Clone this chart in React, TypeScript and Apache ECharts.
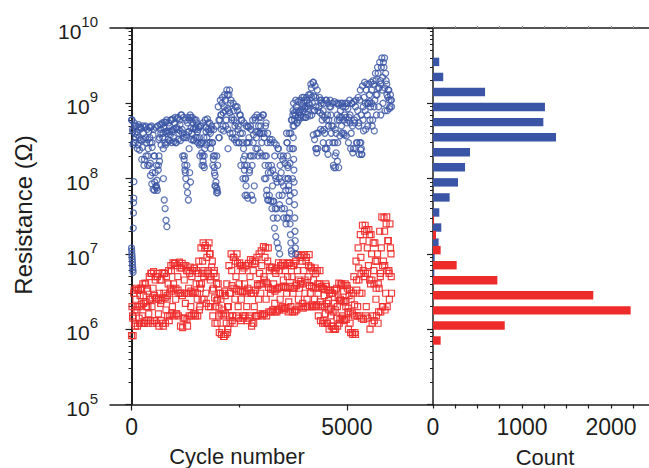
import React, { useEffect, useRef } from 'react';
import * as echarts from 'echarts';

// ---------- data ----------
const cycleStep = 25; // cycles between consecutive readings of the main traces
// HRS readings, MΩ (one per 25 cycles)
const hrsMOhm = [
  600, 450, 300, 500, 350, 420, 280, 480, 330,
  460, 260, 400, 180, 500, 300, 150, 420, 350,
  480, 300, 380, 200, 120, 80, 70, 150, 350, 450,
  520, 350, 480, 300, 560, 400, 330, 500, 380,
  600, 420, 350, 550, 300, 480, 650, 400, 520,
  700, 450, 350, 200, 120, 380, 550, 420, 600,
  650, 400, 550, 330, 480, 600, 350, 450, 280, 500,
  300, 200, 150, 250, 480, 350, 550, 420, 300,
  450, 300, 200, 120, 80, 65, 150, 350, 600,
  700, 1000, 500, 900, 1100, 600, 1300, 800, 1500,
  1000, 600, 400, 800, 500, 350, 900, 450, 300, 700,
  600, 400, 250, 150, 100, 300, 500, 350, 200,
  450, 150, 300, 80, 600, 350, 250, 500, 400,
  500, 300, 700, 400, 200, 550, 300, 120, 60,
  300, 150, 80, 50, 200, 100, 40, 250, 60, 150,
  120, 60, 200, 40, 100, 30, 150, 80, 250,
  400, 600, 800, 500, 700, 900, 550, 650, 750,
  700, 1000, 800, 1200, 900, 650, 1100, 850, 1000,
  1300, 1600, 1000, 1900, 800, 1200, 400, 250, 900, 1100,
  1000, 600, 800, 450, 250, 1100, 700, 500, 900,
  900, 500, 300, 140, 200, 400, 700, 1000, 600,
  800, 500, 1000, 400, 700, 900, 550, 850, 650,
  700, 400, 1000, 250, 600, 900, 300, 800, 500, 1100,
  300, 210, 600, 1200, 800, 1500, 700, 1000, 1300,
  900, 1500, 600, 1800, 1100, 2000, 1300, 2500, 1600,
  2000, 3000, 1500, 3500, 4000, 2500, 1800, 1200, 1500, 900, 1100,
];
const envStep = 50; // cycles between consecutive band readings below
// upper edge / core / lower edge of the HRS band, MΩ (one per 50 cycles)
const hrsUpper = [
  600, 550, 500, 520, 480, 500, 480, 450, 480, 500,
  450, 480, 500, 520, 550, 560, 600, 550, 600, 620,
  650, 620, 600, 700, 650, 600, 650, 700, 650, 600,
  550, 480, 500, 550, 600, 620, 550, 500, 450, 500,
  900, 1100, 1200, 1300, 1500, 1300, 1100, 1000, 900, 800,
  700, 600, 550, 500, 480, 500, 600, 650, 700, 650,
  650, 700, 500, 400, 330, 330, 300, 280, 250, 200,
  180, 160, 300, 400, 600, 1000, 1100, 1050, 1100, 1200,
  1100, 1200, 1300, 1800, 1900, 1700, 1500, 1200, 1100, 1000,
  1100, 1000, 1100, 1000, 1050, 1000, 950, 1000, 900, 1000,
  1000, 1100, 1000, 1050, 1100, 1200, 1500, 1700, 1900, 1800,
  1800, 1900, 2000, 2500, 3000, 3500, 4000, 3000, 2000, 1500, 1300,
];
const hrsCore = [
  420, 400, 380, 350, 320, 330, 350, 330, 300, 260,
  200, 150, 330, 400, 400, 420, 430, 420, 440, 450,
  460, 450, 430, 400, 350, 350, 420, 470, 460, 450,
  420, 350, 300, 350, 420, 450, 400, 300, 200, 200,
  600, 700, 750, 800, 850, 750, 650, 600, 550, 500,
  400, 300, 200, 300, 300, 200, 380, 420, 420, 400,
  400, 350, 200, 150, 120, 130, 110, 90, 100, 90,
  80, 70, 100, 160, 250, 750, 800, 780, 820, 900,
  850, 900, 950, 1200, 1250, 900, 800, 750, 700, 650,
  600, 600, 700, 500, 450, 600, 650, 650, 600, 650,
  600, 550, 500, 550, 650, 550, 700, 900, 1000, 1000,
  1050, 1000, 900, 1300, 1600, 1800, 2200, 1600, 1300, 1100, 1100,
];
const hrsLower = [
  280, 300, 250, 240, 180, 150, 200, 250, 160, 120,
  90, 75, 200, 280, 250, 280, 300, 320, 300, 310,
  300, 330, 320, 200, 150, 150, 250, 330, 320, 350,
  300, 200, 150, 200, 280, 300, 250, 150, 80, 70,
  350, 450, 430, 500, 450, 400, 350, 330, 300, 300,
  150, 100, 60, 150, 120, 60, 200, 250, 200, 220,
  200, 100, 60, 52, 50, 50, 40, 30, 45, 40,
  30, 25, 30, 60, 100, 600, 550, 600, 650, 650,
  650, 700, 680, 700, 800, 250, 400, 450, 430, 400,
  250, 300, 400, 150, 140, 300, 370, 400, 380, 370,
  300, 250, 220, 250, 300, 210, 250, 430, 450, 500,
  600, 500, 430, 700, 900, 700, 1000, 800, 800, 850, 900,
];
// extra HRS readings inside the fast drops: [cycle, MΩ]
const hrsDrops = [
  [0, 12], [4, 11], [8, 10], [12, 9.2], [16, 8.5], [20, 7.8], [24, 7.2], [28, 6.6], [32, 6.1], [36, 5.7],
  [40, 22], [44, 35], [48, 48], [52, 55], [56, 91],
  [380, 200], [410, 150], [440, 110], [470, 85], [500, 72], [530, 70], [560, 78], [590, 95], [620, 130], [650, 170],
  [740, 100], [760, 52], [780, 40], [800, 28], [820, 23],
  [1220, 180], [1240, 130], [1260, 100], [1280, 80], [1300, 65], [1320, 52], [1350, 120], [1370, 90],
  [1600, 290], [1630, 220], [1660, 170], [1690, 140],
  [1900, 180], [1920, 140], [1940, 110], [1960, 90], [1980, 75], [2000, 65],
  [2240, 250],
  [2600, 180], [2620, 130], [2640, 100], [2660, 80], [2680, 60], [2700, 55], [2740, 130],
  [2820, 52],
  [3100, 150], [3120, 100], [3140, 70], [3160, 52],
  [3260, 40], [3290, 30], [3320, 22], [3350, 17], [3380, 14], [3410, 12], [3440, 10],
  [3600, 400], [3610, 300], [3620, 200], [3630, 140], [3640, 100], [3650, 70], [3660, 50], [3670, 35],
  [3680, 25], [3690, 18], [3700, 14], [3710, 11], [3720, 10],
  [3745, 700], [3750, 500], [3755, 350], [3760, 250], [3765, 180], [3770, 130], [3775, 90], [3780, 65],
  [3785, 45], [3790, 30], [3795, 20], [3800, 15], [3805, 12], [3810, 10],
  [4220, 380], [4250, 330], [4280, 250], [4300, 220],
  [4450, 300], [4500, 250], [4560, 210],
  [4720, 300], [4750, 220], [4780, 170], [4810, 140],
  [5300, 300], [5320, 240], [5340, 210],
];
// LRS readings, MΩ (one per 25 cycles)
const lrsMOhm = [
  0.82, 1.5, 3.0, 1.2, 2.5, 1.8, 3.3, 1.4, 2.8,
  3.5, 1.5, 2.8, 1.2, 4.0, 2.0, 3.2, 1.6, 2.5,
  5.5, 2.0, 3.5, 1.3, 4.5, 2.5, 5.0, 1.6, 3.0, 2.2,
  4.5, 1.2, 3.0, 5.5, 1.8, 2.5, 4.0, 1.3, 3.5,
  6.0, 2.0, 4.0, 7.5, 2.5, 1.6, 5.0, 3.0, 6.5,
  3.0, 7.5, 1.4, 4.5, 2.2, 6.0, 1.1, 3.5, 5.5,
  2.0, 5.0, 3.0, 6.5, 1.6, 4.0, 2.5, 5.5, 1.8, 3.5,
  4.0, 8.0, 5.0, 12, 3.0, 9.0, 6.0, 14, 10,
  5.0, 8.0, 3.5, 6.0, 2.0, 4.0, 2.5, 1.5, 3.0,
  2.5, 1.0, 1.8, 0.8, 2.8, 1.2, 0.9, 2.0, 1.5,
  3.0, 6.0, 1.5, 9.0, 2.5, 5.0, 10, 2.0, 4.0, 7.0,
  2.5, 6.0, 1.5, 4.0, 7.0, 2.0, 3.5, 1.4, 5.0,
  3.0, 1.2, 6.0, 2.0, 8.0, 1.5, 4.0, 2.5, 5.5,
  3.0, 7.0, 1.6, 5.0, 9.0, 2.5, 4.0, 12, 6.0,
  3.0, 6.5, 1.8, 4.0, 2.2, 5.5, 1.7, 3.5, 6.0, 2.5,
  7.0, 2.0, 4.5, 1.9, 6.0, 3.0, 5.0, 2.3, 7.5,
  2.0, 5.0, 3.0, 7.5, 1.8, 4.0, 6.0, 2.5, 3.5,
  4.0, 9.5, 2.2, 6.0, 3.0, 8.0, 2.5, 5.0, 9.8,
  3.0, 6.5, 2.0, 4.5, 2.5, 5.5, 2.1, 4.0, 3.5, 6.0,
  2.0, 3.5, 1.3, 2.8, 1.6, 3.7, 1.2, 2.4, 3.0,
  1.5, 3.0, 1.1, 2.2, 1.0, 3.3, 1.4, 2.6, 1.2,
  2.5, 4.0, 1.5, 3.2, 1.35, 2.0, 3.8, 1.7, 2.8,
  1.2, 2.5, 0.9, 3.0, 1.5, 0.85, 4.5, 2.0, 6.5, 3.0,
  9.0, 3.0, 15, 5.0, 24, 2.0, 12, 7.0, 18,
  4.0, 10, 1.5, 6.0, 14, 2.5, 8.0, 1.2, 3.5,
  5.0, 12, 2.0, 8.0, 20, 3.0, 31, 15, 6.0, 25, 10,
];
// upper edge / core / lower edge of the LRS band, MΩ (one per 50 cycles)
const lrsUpper = [
  2.0, 3.3, 3.5, 3.3, 3.5, 4.0, 4.1, 3.5, 5.0, 5.5,
  5.8, 5.0, 5.5, 4.5, 5.6, 5.5, 5.0, 6.0, 7.0, 7.6,
  7.5, 7.0, 7.8, 6.5, 7.0, 7.0, 6.0, 6.7, 6.0, 6.5,
  6.0, 8.0, 12, 14, 13, 12, 10, 6.7, 5.5, 5.0,
  4.0, 3.0, 3.0, 3.2, 4.0, 7.0, 10, 9.0, 8.0, 7.5,
  7.6, 7.0, 6.5, 7.0, 7.5, 8.4, 8.0, 7.5, 9.0, 10,
  11, 12.5, 12, 8.0, 6.7, 6.7, 6.0, 6.5, 7.6, 7.0,
  7.6, 7.0, 7.5, 7.6, 7.0, 7.0, 8.0, 9.8, 9.0, 8.0,
  9.8, 9.0, 7.0, 6.7, 6.0, 6.5, 6.0, 4.0, 3.7, 3.5,
  4.0, 3.3, 3.3, 3.0, 3.3, 3.5, 4.1, 4.0, 3.8, 4.0,
  3.5, 3.3, 3.0, 5.0, 8.0, 12, 18, 24, 20, 21,
  21, 18, 14, 8.0, 10, 20, 31, 30, 25, 15, 12,
];
const lrsCore = [
  1.4, 1.8, 2.0, 2.0, 2.1, 2.2, 2.3, 2.0, 2.5, 2.6,
  2.8, 2.6, 2.5, 2.4, 2.6, 2.6, 2.8, 3.0, 3.2, 3.4,
  3.5, 3.3, 3.0, 2.8, 3.0, 3.0, 3.0, 3.2, 3.0, 3.1,
  3.0, 4.0, 5.5, 6.0, 5.5, 5.0, 4.5, 3.3, 2.6, 2.4,
  1.9, 1.6, 1.5, 1.6, 2.0, 3.0, 3.8, 3.5, 3.4, 3.2,
  3.2, 3.1, 3.2, 3.0, 3.3, 3.0, 3.0, 3.3, 3.8, 4.0,
  4.0, 4.5, 4.2, 3.6, 3.4, 3.4, 3.2, 3.4, 3.6, 3.6,
  3.7, 3.6, 3.5, 3.7, 3.5, 3.5, 3.8, 4.5, 4.3, 4.0,
  4.5, 4.2, 3.8, 3.7, 3.5, 3.6, 3.0, 2.3, 2.1, 2.0,
  2.2, 1.8, 1.9, 1.7, 1.8, 2.0, 2.4, 2.4, 2.3, 2.4,
  1.9, 1.7, 1.6, 2.1, 3.3, 4.5, 5.5, 6.0, 5.5, 5.5,
  4.5, 4.5, 4.0, 3.5, 4.0, 5.5, 7.0, 7.0, 6.0, 5.5, 5.0,
];
const lrsLower = [
  0.82, 1.1, 1.1, 1.2, 1.2, 1.2, 1.3, 1.2, 1.3, 1.2,
  1.3, 1.2, 1.1, 1.3, 1.1, 1.2, 1.5, 1.5, 1.6, 1.5,
  1.6, 1.5, 1.1, 1.05, 1.4, 1.35, 1.5, 1.5, 1.6, 1.5,
  1.5, 2.0, 2.5, 2.5, 2.2, 2.0, 2.0, 1.5, 1.2, 1.2,
  0.9, 0.85, 0.8, 0.85, 1.0, 1.2, 1.3, 1.2, 1.5, 1.4,
  1.3, 1.4, 1.5, 1.3, 1.5, 1.1, 1.2, 1.5, 1.5, 1.6,
  1.5, 1.6, 1.5, 1.7, 1.7, 1.8, 1.7, 1.8, 1.8, 1.9,
  1.8, 1.9, 1.7, 1.8, 1.7, 1.7, 1.8, 2.0, 2.0, 1.9,
  2.0, 2.0, 2.0, 2.1, 2.0, 2.0, 1.5, 1.3, 1.2, 1.2,
  1.2, 1.0, 1.1, 1.0, 1.0, 1.1, 1.35, 1.4, 1.3, 1.35,
  1.0, 0.9, 0.85, 0.9, 1.5, 1.5, 1.4, 1.35, 1.5, 1.4,
  1.0, 1.2, 1.3, 1.5, 1.7, 1.7, 2.0, 1.8, 2.0, 2.5, 3.0,
];
// histograms: bin centre (log10 Ω) and count
const hrsBinExp = [9.55, 9.35, 9.15, 8.95, 8.75, 8.55, 8.35, 8.15, 7.95, 7.75, 7.55, 7.35, 7.15, 6.95, 6.75];
const hrsBinCount = [70, 115, 585, 1258, 1240, 1382, 416, 360, 281, 187, 71, 93, 63, 19, 15];
const lrsBinExp = [7.45, 7.25, 7.05, 6.85, 6.65, 6.45, 6.25, 6.05, 5.85];
const lrsBinCount = [12, 34, 86, 266, 723, 1801, 2221, 806, 86];
// axis ticks / labels
const cycleLabels = [0, 5000];
const cycleMinorTicks = [2500];
const countLabels = [0, 1000, 2000];
const countTicks = [0, 250, 500, 750, 1000, 1250, 1500, 1750, 2000, 2250];
const decadeExponents = [5, 6, 7, 8, 9, 10];

const BLUE = '#3a55a5';
const RED = '#ee2b2b';
const INK = '#1e1e1e';
const FONT = '"Liberation Sans", Arial, sans-serif';

const minorExp: number[] = [];
for (let n = decadeExponents[0]; n < decadeExponents[decadeExponents.length - 1]; n++) {
  for (let k = 2; k <= 9; k++) minorExp.push(n + Math.log10(k));
}

function barRenderer(color: string) {
  return (params: any, api: any) => {
    const count = api.value(0);
    const e = Math.log10(api.value(1));
    const p0 = api.coord([0, Math.pow(10, e + 0.056)]);
    const p1 = api.coord([count, Math.pow(10, e - 0.056)]);
    return {
      type: 'rect',
      shape: { x: p0[0], y: p0[1], width: p1[0] - p0[0], height: p1[1] - p0[1] },
      style: { fill: color },
    };
  };
}

const plain = (v: number) => String(v);
const toPoints = (arr: number[], step: number, offset: number) =>
  arr.map((v, i) => [i * step + offset, v * 1e6]);

export default function App() {
  const ref = useRef<HTMLDivElement>(null);
  useEffect(() => {
    if (!ref.current) return;
    const chart = echarts.init(ref.current, null, { renderer: 'svg' });
    const hrsData = toPoints(hrsMOhm, cycleStep, 0)
      .concat(toPoints(hrsUpper, envStep, 12))
      .concat(toPoints(hrsCore, envStep, 30))
      .concat(toPoints(hrsLower, envStep, 37))
      .concat(hrsDrops.map(([c, v]) => [c, v * 1e6]));
    const lrsData = toPoints(lrsMOhm, cycleStep, 0)
      .concat(toPoints(lrsUpper, envStep, 12))
      .concat(toPoints(lrsCore, envStep, 30))
      .concat(toPoints(lrsLower, envStep, 37));
    const axisLine = { show: true, lineStyle: { color: INK, width: 1.5 } };
    const hidden = { show: false };
    const option: any = {
      animation: false,
      textStyle: { fontFamily: FONT },
      grid: [
        { left: 110, top: 28, width: 323, height: 376.5 },
        { left: 433, top: 28, width: 216, height: 376.5 },
      ],
      xAxis: [
        {
          gridIndex: 0, type: 'value', position: 'bottom', min: -500, max: 7000,
          axisLine, splitLine: hidden,
          axisTick: { customValues: cycleLabels, length: 6, lineStyle: { color: INK, width: 1.2 } },
          axisLabel: { customValues: cycleLabels, formatter: plain, fontSize: 23, color: INK, margin: 11, fontFamily: FONT },
        },
        {
          gridIndex: 0, type: 'value', position: 'bottom', min: -500, max: 7000,
          axisLine: hidden, splitLine: hidden, axisLabel: hidden,
          axisTick: { customValues: cycleMinorTicks, length: 3, lineStyle: { color: INK, width: 1.2 } },
        },
        {
          gridIndex: 0, type: 'value', position: 'top', min: -500, max: 7000,
          axisLine, splitLine: hidden, axisLabel: hidden, axisTick: hidden,
        },
        {
          gridIndex: 1, type: 'value', position: 'bottom', min: 0, max: 2427,
          axisLine, splitLine: hidden,
          axisTick: { customValues: countTicks, length: 4, lineStyle: { color: INK, width: 1.2 } },
          axisLabel: { customValues: countLabels, formatter: plain, fontSize: 23, color: INK, margin: 11, fontFamily: FONT },
        },
        {
          gridIndex: 1, type: 'value', position: 'top', min: 0, max: 2427,
          axisLine, splitLine: hidden, axisLabel: hidden,
          axisTick: { customValues: countTicks, length: 2, lineStyle: { color: '#999', width: 1 } },
        },
      ],
      yAxis: [
        { gridIndex: 0, type: 'log', logBase: 10, min: 1e5, max: 1e10, show: false },
        {
          gridIndex: 0, type: 'value', position: 'left', min: 5, max: 10, interval: 1,
          axisLine: { show: true, lineStyle: { color: INK, width: 2 } }, splitLine: hidden,
          axisTick: { length: 6, lineStyle: { color: INK, width: 1.2 } },
          axisLabel: {
            margin: 12, color: INK,
            formatter: (v: number) => `{b|10}{s|${v}}`,
            rich: {
              b: { fontSize: 21, lineHeight: 28, verticalAlign: 'bottom', fontFamily: FONT, color: INK },
              s: { fontSize: 15, lineHeight: 15, verticalAlign: 'top', fontFamily: FONT, color: INK },
            },
          },
        },
        {
          gridIndex: 0, type: 'value', position: 'left', min: 5, max: 10,
          axisLine: hidden, splitLine: hidden, axisLabel: hidden,
          axisTick: { customValues: minorExp, length: 3, lineStyle: { color: INK, width: 1 } },
        },
        { gridIndex: 1, type: 'log', logBase: 10, min: 1e5, max: 1e10, show: false },
        {
          gridIndex: 1, type: 'value', position: 'left', min: 5, max: 10, interval: 1,
          axisLine, splitLine: hidden, axisLabel: hidden,
          axisTick: { length: 6, lineStyle: { color: INK, width: 1.2 } },
        },
        {
          gridIndex: 1, type: 'value', position: 'left', min: 5, max: 10,
          axisLine: hidden, splitLine: hidden, axisLabel: hidden,
          axisTick: { customValues: minorExp, length: 3, lineStyle: { color: INK, width: 1 } },
        },
      ],
      series: [
        {
          type: 'scatter', xAxisIndex: 0, yAxisIndex: 0, data: lrsData,
          symbol: 'rect', symbolSize: 6, silent: true,
          itemStyle: { color: 'rgba(255,255,255,0)', borderColor: RED, borderWidth: 1.2, opacity: 0.9 },
        },
        {
          type: 'scatter', xAxisIndex: 0, yAxisIndex: 0, data: hrsData,
          symbol: 'circle', symbolSize: 6, silent: true,
          itemStyle: { color: 'rgba(255,255,255,0)', borderColor: BLUE, borderWidth: 1.3 },
        },
        {
          type: 'custom', xAxisIndex: 3, yAxisIndex: 3, silent: true,
          data: hrsBinCount.map((c, i) => [c, Math.pow(10, hrsBinExp[i])]),
          renderItem: barRenderer(BLUE),
        },
        {
          type: 'custom', xAxisIndex: 3, yAxisIndex: 3, silent: true,
          data: lrsBinCount.map((c, i) => [c, Math.pow(10, lrsBinExp[i])]),
          renderItem: barRenderer(RED),
        },
      ],
      graphic: [
        {
          type: 'text', x: 237, y: 456,
          style: { text: 'Cycle number', fontSize: 22, fontFamily: FONT, fill: INK, align: 'center', verticalAlign: 'middle' },
        },
        {
          type: 'text', x: 545, y: 457,
          style: { text: 'Count', fontSize: 22, fontFamily: FONT, fill: INK, align: 'center', verticalAlign: 'middle' },
        },
        {
          type: 'text', x: 23, y: 215, rotation: Math.PI / 2,
          style: { text: 'Resistance (Ω)', fontSize: 24, fontFamily: FONT, fill: INK, align: 'center', verticalAlign: 'middle' },
        },
      ],
    };
    chart.setOption(option);
    return () => chart.dispose();
  }, []);
  return <div ref={ref} style={{ position: 'absolute', left: 0, top: 0, width: 649, height: 468 }} />;
}
